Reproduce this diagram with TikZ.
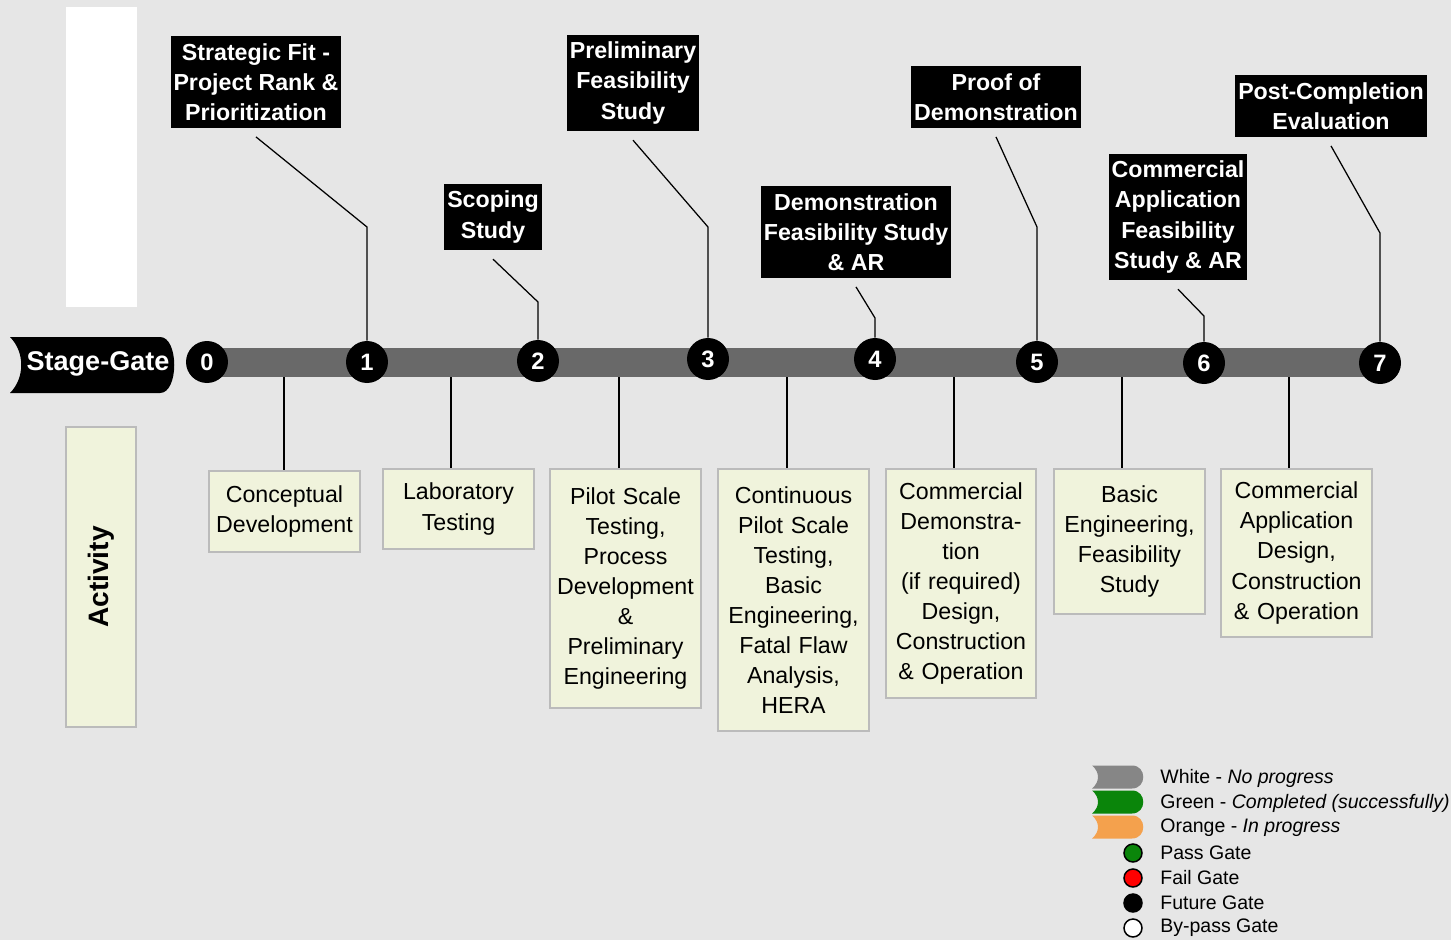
\documentclass[tikz,border=0pt]{standalone}
\usepackage{fontspec}
\setmainfont{Liberation Sans}
\usetikzlibrary{positioning}
\definecolor{bggray}{HTML}{E6E6E6}
\definecolor{bargray}{HTML}{696969}
\definecolor{actfill}{HTML}{F0F3DC}
\definecolor{actline}{HTML}{BBBBBB}
\definecolor{swgray}{HTML}{868686}
\definecolor{swgreen}{HTML}{0A850A}
\definecolor{sworange}{HTML}{F4A14D}
\tikzset{lbl/.style={fill=black,text=white,align=center,inner xsep=0.06cm,inner ysep=0.15cm,font=\bfseries\fontsize{13.2}{17.1}\selectfont}}
\tikzset{gate/.style={circle,fill=black,text=white,minimum size=0.84cm,inner sep=0pt,font=\bfseries\fontsize{13.5}{15}\selectfont}}
\tikzset{act/.style={rectangle,draw=actline,line width=0.04cm,fill=actfill,align=center,text width=2.92cm,inner xsep=0.05cm,anchor=north,font=\fontsize{13.2}{17.1}\selectfont}}
\tikzset{lead/.style={draw=black,line width=0.025cm}}
\tikzset{legtxt/.style={anchor=west,inner sep=0pt,font=\fontsize{11.1}{13}\selectfont}}

\begin{document}
\begin{tikzpicture}[x=0.02cm,y=-0.02cm]

	\useasboundingbox (0,0) rectangle (1451,940);
	\fill[bggray] (0,0) rectangle (1451,940);
	\fill[white] (66,7) rectangle (137,307);

	% stage-gate banner
	\fill[black] (10,337) -- (160,337) .. controls (179,337) and (179,393) .. (160,393) -- (10,393) .. controls (25,378) and (25,352) .. cycle;
	\node[text=white,font=\bfseries\fontsize{15.4}{17}\selectfont] (sg) at (98,364) {Stage-Gate};

	\fill[bargray] (207,348) rectangle (1380,377);

	\foreach \i/\x/\y in {0/207/362, 1/367/362, 2/538/361, 3/708/359, 4/875/359, 5/1037/362, 6/1204/363, 7/1380/363} {
		\node[gate] (g\i) at (\x,\y) {\i};
	}

	% gate deliverables
	\node[lbl] (sf) at (256,82) {Strategic Fit -\\Project Rank \&\\Prioritization};
	\node[lbl] (sc) at (493,217) {Scoping\\Study};
	\node[lbl] (pf) at (633,83) {Preliminary\\Feasibility\\Study};
	\node[lbl] (df) at (856,232) {Demonstration\\Feasibility Study\\\& AR};
	\node[lbl] (pd) at (996,97) {Proof of\\Demonstration};
	\node[lbl] (ca) at (1178,217) {Commercial\\Application\\Feasibility\\Study \& AR};
	\node[lbl] (pc) at (1331,106) {Post-Completion\\Evaluation};

	\foreach \lab/\g/\ey in {sf/1/227, sc/2/302, pf/3/227, df/4/318, pd/5/227, ca/6/316, pc/7/233} {
		\draw[lead] ([yshift=-0.17cm]\lab.south) -- (g\g.north |- 0,\ey) -- (g\g.north);
	}

	% activities
	\node[rectangle,draw=actline,line width=0.04cm,fill=actfill,rotate=90,minimum width=6cm,minimum height=1.4cm,font=\bfseries\fontsize{16}{18}\selectfont] (activity) at (101,577) {Activity};

	\node[act,minimum height=1.62cm] (a1) at (284.5,470) {Conceptual\\Development};
	\node[act,minimum height=1.6cm] (a2) at (458.5,468) {Laboratory\\Testing};
	\node[act,minimum height=4.78cm] (a3) at (625.5,468) {Pilot Scale\\Testing,\\Process\\Development\\\&\\Preliminary\\Engineering};
	\node[act,minimum height=5.24cm] (a4) at (793.5,468) {Continuous\\Pilot Scale\\Testing,\\Basic\\Engineering,\\Fatal Flaw\\Analysis,\\HERA};
	\node[act,minimum height=4.58cm] (a5) at (961,468) {Commercial\\Demonstra-\\tion\\(if required)\\Design,\\Construction\\\& Operation};
	\node[act,minimum height=2.9cm] (a6) at (1129.5,468) {Basic\\Engineering,\\Feasibility\\Study};
	\node[act,minimum height=3.36cm] (a7) at (1296.5,468) {Commercial\\Application\\Design,\\Construction\\\& Operation};

	\foreach \k/\x in {1/284, 2/451, 3/619, 4/787, 5/954, 6/1122, 7/1289} {
		\coordinate (t\k) at (\x,377);
		\draw[lead] (t\k) -- (t\k |- a\k.north);
	}

	% legend
	\foreach \c/\y in {swgray/777, swgreen/802, sworange/827} {
		\fill[\c] (1092,\y-11.5) -- (1132,\y-11.5) .. controls (1147,\y-11.5) and (1147,\y+11.5) .. (1132,\y+11.5) -- (1092,\y+11.5) .. controls (1100,\y+5) and (1100,\y-5) .. cycle;
	}
	\foreach \c/\y in {swgreen/853, red/878, black/903, white/928} {
		\draw[fill=\c,line width=0.03cm] (1133,\y) circle (9);
	}
	\node[legtxt] (lw) at (1160,778) {White - \textit{No progress}};
	\node[legtxt] (lg) at (1160,803) {Green - \textit{Completed (successfully)}};
	\node[legtxt] (lo) at (1160,828) {Orange - \textit{In progress}};
	\node[legtxt] (lp) at (1160,853) {Pass Gate};
	\node[legtxt] (lf) at (1160,878) {Fail Gate};
	\node[legtxt] (lu) at (1160,903) {Future Gate};
	\node[legtxt] (lb) at (1160,928) {By-pass Gate};

\end{tikzpicture}
\end{document}
